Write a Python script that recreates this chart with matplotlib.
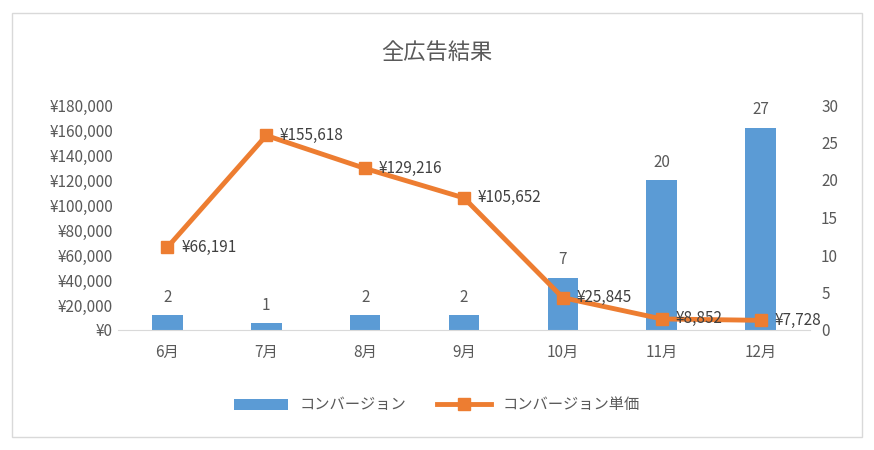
import matplotlib
matplotlib.use("Agg")
import matplotlib.pyplot as plt
from matplotlib.patches import Rectangle

plt.rcParams["font.family"] = "Noto Sans CJK JP"

months = ["6月", "7月", "8月", "9月", "10月", "11月", "12月"]
conversions = [2, 1, 2, 2, 7, 20, 27]
unit_price = [66191, 155618, 129216, 105652, 25845, 8852, 7728]

gray = "#595959"
fig = plt.figure(figsize=(8.74, 4.5), dpi=100)
fig.patches.append(Rectangle((12/874, 13/450), 850/874, 424/450, transform=fig.transFigure,
                             fill=False, edgecolor="#D9D9D9", linewidth=1))
ax = fig.add_axes([118/874, 1-330/450, 692/874, 225/450])
ax2 = ax.twinx()
x = range(len(months))
bars = ax2.bar(x, conversions, width=0.31, color="#5B9BD5", label="コンバージョン", zorder=1)
for i, v in enumerate(conversions):
    ax2.text(i, v + 1.2, str(v), ha="center", va="bottom", fontsize=11, color=gray)
ax2.set_ylim(0, 30)
ax2.set_yticks(range(0, 31, 5))
ax.set_zorder(ax2.get_zorder() + 1)
ax.patch.set_visible(False)
ln, = ax.plot(x, unit_price, color="#ED7D31", linewidth=3.5, marker="s", markersize=8,
              label="コンバージョン単価")
for i, v in enumerate(unit_price):
    ax.text(i + 0.14, v, f"¥{v:,}", ha="left", va="center", fontsize=11, color="#404040")
ax.set_ylim(0, 180000)
ax.set_yticks(range(0, 180001, 20000))
ax.set_yticklabels([f"¥{v:,}" for v in range(0, 180001, 20000)])
ax.set_xlim(-0.5, 6.5)
ax.set_xticks(list(x))
ax.set_xticklabels(months)
for a in (ax, ax2):
    for s in a.spines.values():
        s.set_visible(False)
    a.tick_params(length=0, labelsize=11, colors=gray)
ax.spines["bottom"].set_visible(True)
ax.spines["bottom"].set_color("#D9D9D9")
ax.tick_params(axis="x", pad=10)
ax2.tick_params(axis="y", pad=8)
fig.text(0.5, 1-52/450, "全広告結果", ha="center", va="center", fontsize=16, color=gray)
fig.legend([bars, ln], ["コンバージョン", "コンバージョン単価"], loc="center",
           bbox_to_anchor=(0.5, 1-405/450), ncol=2, frameon=False, fontsize=11,
           labelcolor=gray, handlelength=3.5, columnspacing=2)
fig.savefig("out.png", dpi=100)
